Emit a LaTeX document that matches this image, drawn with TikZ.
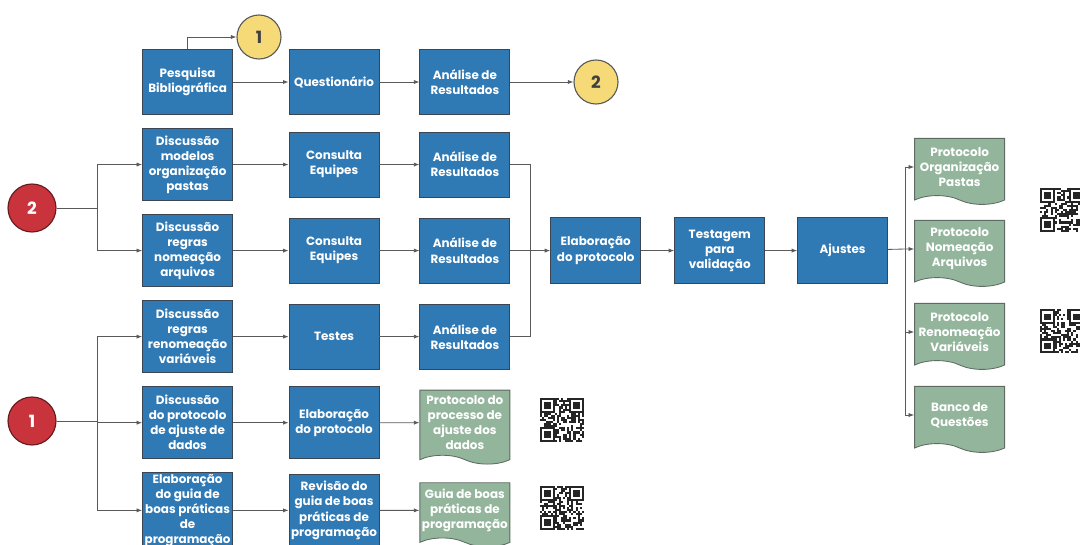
\documentclass[tikz,border=0pt]{standalone}
\usepackage{fontspec}
\setmainfont{Poppins}
\usetikzlibrary{shapes.symbols, arrows.meta, positioning}

\definecolor{boxblue}{HTML}{2F79B5}
\definecolor{boxedge}{HTML}{3A4654}
\definecolor{docgreen}{HTML}{93B59C}
\definecolor{docedge}{HTML}{5E6B62}
\definecolor{ballyellow}{HTML}{F6DA78}
\definecolor{ballred}{HTML}{C9343C}
\definecolor{linegray}{HTML}{5A5A5A}

\begin{document}
\begin{tikzpicture}[
    process/.style={rectangle, draw=boxedge, line width=0.6pt, fill=boxblue, text=white, minimum width=2.25cm, minimum height=1.8cm, align=center, font=\fontsize{8.5}{10.7}\selectfont\bfseries, inner sep=1pt},
    output/.style={tape, tape bend top=none, tape bend bottom=out and in, tape bend height=0.22cm, draw=docedge, line width=0.6pt, fill=docgreen, text=white, minimum width=2.25cm, minimum height=1.65cm, align=center, font=\fontsize{8.5}{10.7}\selectfont\bfseries, inner sep=1pt},
    marker/.style={circle, draw=linegray, line width=0.8pt, fill=ballyellow, text=black!75, minimum size=1.1cm, font=\large\bfseries},
    start/.style={circle, draw=ballred!50!black, line width=0.8pt, fill=ballred, text=white, minimum size=1.2cm, font=\large\bfseries},
    link/.style={draw=linegray, line width=0.6pt},
    arrow/.style={link, -{Latex[length=4pt,width=3pt]}},
    qr/.pic={
        \foreach \i in {0,...,20}{
            \foreach \j in {0,...,20}{
                \pgfmathrandominteger{\bit}{0}{1}
                \ifnum\bit=1 \fill[black!85] (\i*0.052-0.546,0.546-\j*0.052) rectangle ++(0.052,-0.052);\fi
            }
        }
        \foreach \cx/\cy in {-0.546/0.546, 0.182/0.546, -0.546/-0.182}{
            \fill[black!85] (\cx,\cy) rectangle ++(0.364,-0.364);
            \fill[white] (\cx+0.052,\cy-0.052) rectangle ++(0.26,-0.26);
            \fill[black!85] (\cx+0.104,\cy-0.104) rectangle ++(0.156,-0.156);
        }
    }
]
\useasboundingbox (0,0) rectangle (27,-13.6);
\pgfmathsetseed{7}

% Top row
\node[process, minimum height=1.625cm] (pesquisa) at (4.69,-2.05) {Pesquisa\\Bibliográfica};
\node[process, minimum height=1.625cm, right=1.39cm of pesquisa] (questionario) {Questionário};
\node[process, minimum height=1.625cm, right=1.0cm of questionario] (analise0) {Análise de\\Resultados};
\node[marker] (yellow1) at (6.475,-0.925) {1};
\node[marker] (yellow2) at (14.9,-2.05) {2};

% First column
\node[process, below=0.33cm of pesquisa] (disc_pastas) {Discussão\\modelos\\organização\\pastas};
\node[process, below=0.33cm of disc_pastas] (disc_arquivos) {Discussão\\regras\\nomeação\\arquivos};
\node[process, below=0.33cm of disc_arquivos] (disc_variaveis) {Discussão\\regras\\renomeação\\variáveis};
\node[process, below=0.33cm of disc_variaveis] (disc_ajuste) {Discussão\\do protocolo\\de ajuste de\\dados};
\node[process, below=0.33cm of disc_ajuste] (elab_guia) {Elaboração\\do guia de\\boas práticas\\de\\programação};

% Second column
\node[process, minimum height=1.625cm, right=1.39cm of disc_pastas] (consulta1) {Consulta\\Equipes};
\node[process, minimum height=1.625cm, right=1.39cm of disc_arquivos] (consulta2) {Consulta\\Equipes};
\node[process, minimum height=1.625cm, right=1.39cm of disc_variaveis] (testes) {Testes};
\node[process, right=1.39cm of disc_ajuste] (elab_ajuste) {Elaboração\\do protocolo};
\node[process, right=1.39cm of elab_guia] (revisao) {Revisão do\\guia de boas\\práticas de\\programação};

% Third column
\node[process, minimum height=1.625cm, right=1.0cm of consulta1] (analise1) {Análise de\\Resultados};
\node[process, minimum height=1.625cm, right=1.0cm of consulta2] (analise2) {Análise de\\Resultados};
\node[process, minimum height=1.625cm, right=1.0cm of testes] (analise3) {Análise de\\Resultados};
\node[output, minimum height=1.85cm, right=1.0cm of elab_ajuste] (prot_ajuste) {Protocolo do\\processo de\\ajuste dos\\dados};
\node[output, minimum height=1.6cm, right=1.0cm of revisao] (guia) {Guia de boas\\práticas de\\programação};

% Main line
\node[process, minimum height=1.65cm, right=1.0cm of analise2] (elab_prot) {Elaboração\\do protocolo};
\node[process, minimum height=1.65cm, right=0.83cm of elab_prot] (testagem) {Testagem\\para\\validação};
\node[process, minimum height=1.65cm, right=0.8cm of testagem] (ajustes) {Ajustes};

% Final documents
\node[output] (prot_pastas) at (23.99,-4.175) {Protocolo\\Organização\\Pastas};
\node[output] (prot_nomeacao) at (23.99,-6.225) {Protocolo\\Nomeação\\Arquivos};
\node[output] (prot_variaveis) at (23.99,-8.3) {Protocolo\\Renomeação\\Variáveis};
\node[output] (banco) at (23.99,-10.375) {Banco de\\Questões};

% Start points
\node[start] (red2) at (0.8,-5.2) {2};
\node[start] (red1) at (0.8,-10.525) {1};

% Branch and merge points
\coordinate (branch2) at (2.425,-5.2);
\coordinate (branch1) at (2.425,-10.525);
\coordinate (merge) at (13.25,-6.225);
\coordinate (split) at (22.625,-6.225);

% Top row lines
\draw[arrow] (pesquisa.north) |- (yellow1);
\draw[arrow] (pesquisa) -- (questionario);
\draw[arrow] (questionario) -- (analise0);
\draw[arrow] (analise0) -- (yellow2);

% Branches from the start points
\draw[link] (red2) -- (branch2);
\draw[arrow] (branch2) |- (disc_pastas);
\draw[arrow] (branch2) |- (disc_arquivos);
\draw[link] (red1) -- (branch1);
\draw[arrow] (branch1) |- (disc_variaveis);
\draw[arrow] (branch1) |- (disc_ajuste);
\draw[arrow] (branch1) |- (elab_guia);

% Rows
\draw[arrow] (disc_pastas) -- (consulta1);
\draw[arrow] (consulta1) -- (analise1);
\draw[arrow] (disc_arquivos) -- (consulta2);
\draw[arrow] (consulta2) -- (analise2);
\draw[arrow] (disc_variaveis) -- (testes);
\draw[arrow] (testes) -- (analise3);
\draw[arrow] (disc_ajuste) -- (elab_ajuste);
\draw[arrow] (elab_ajuste) -- (prot_ajuste);
\draw[arrow] (elab_guia) -- (revisao);
\draw[arrow] (revisao) -- (guia);

% Merge into the protocol
\draw[link] (analise1) -| (merge);
\draw[link] (analise3) -| (merge);
\draw[arrow] (analise2) -- (elab_prot);
\draw[arrow] (elab_prot) -- (testagem);
\draw[arrow] (testagem) -- (ajustes);

% Split to documents
\draw[link] (ajustes) -- (split);
\draw[arrow] (split) |- (prot_pastas);
\draw[arrow] (split) -- (prot_nomeacao);
\draw[arrow] (split) |- (prot_variaveis);
\draw[arrow] (split) |- (banco);

% QR codes
\pic at (14.05,-10.5) {qr};
\pic at (14.05,-12.7) {qr};
\pic at (26.55,-5.25) {qr};
\pic at (26.55,-8.28) {qr};

\end{tikzpicture}
\end{document}
